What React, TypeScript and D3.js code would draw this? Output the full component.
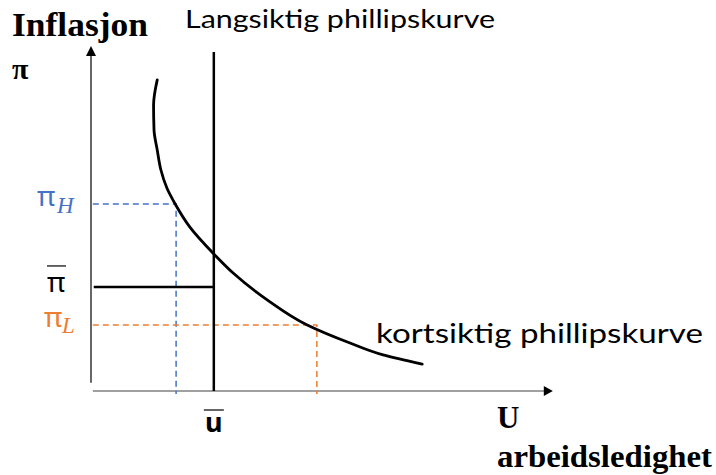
import React from 'react';
import * as d3 from 'd3';

// short-run phillips curve (unemployment u, inflation pi)
const curveU = [1.44, 1.36, 1.37, 1.44, 1.52, 1.65, 1.83, 2.15, 2.65, 3.09, 3.83, 4.7, 5.63, 6.35, 7.2];
const curvePi = [9.15, 8.41, 7.68, 7.09, 6.5, 5.97, 5.5, 4.82, 4.06, 3.47, 2.68, 1.94, 1.41, 1.06, 0.79];

// reference levels
const uBar = 2.67;
const piBar = 3.06;
const uH = 1.85;
const piH = 5.5;
const uL = 4.91;
const piL = 1.94;
const lrTop = 9.97;

const W = 716, H = 475;
const blue = '#4472C4';
const orange = '#ED7D31';

export default function App() {
  const x = d3.scaleLinear().domain([0, 10]).range([91, 551]);
  const y = d3.scaleLinear().domain([0, 10]).range([391, 51]);

  const pts: [number, number][] = curveU.map((u, i) => [u, curvePi[i]]);
  // y is monotone along the curve, so interpolate x as a function of y
  const line = d3
    .line<[number, number]>()
    .x((d) => x(d[0]))
    .y((d) => y(d[1]))
    .curve(d3.curveMonotoneY);

  const sans = 'Lato, "Noto Sans", sans-serif';
  const serif = '"Liberation Serif", "Times New Roman", serif';
  const greek = '"Noto Sans", "Open Sans", sans-serif';

  return (
    <svg width={W} height={H} style={{ position: 'absolute', left: 0, top: 0, background: '#fff' }}>
      {/* axes */}
      <line x1={x(0)} x2={x(0)} y1={y(0.24)} y2={y(10.0)} stroke="#000" strokeWidth={1.2} />
      <path d={`M${x(0)},${y(10.15)} l-5,10 l10,0 z`} fill="#000" />
      <line x1={x(0.04)} x2={x(9.86)} y1={y(0)} y2={y(0)} stroke="#808080" strokeWidth={1.6} />
      <path d={`M${x(10.04)},${y(0)} l-9,-5 l0,10 z`} fill="#000" />

      {/* dashed guides */}
      <g strokeWidth={1.5} strokeDasharray="6,4" fill="none">
        <path d={`M${x(0.04)},${y(piH)} H${x(uH)} V${y(-0.09)}`} stroke={blue} />
        <path d={`M${x(0.04)},${y(piL)} H${x(uL)} V${y(-0.09)}`} stroke={orange} />
      </g>

      {/* long-run curve and pi-bar */}
      <line x1={x(uBar)} x2={x(uBar)} y1={y(lrTop)} y2={y(0)} stroke="#000" strokeWidth={2.5} />
      <line x1={x(0.06)} x2={x(uBar)} y1={y(piBar)} y2={y(piBar)} stroke="#000" strokeWidth={2.5} />

      {/* short-run curve */}
      <path d={line(pts) || ''} fill="none" stroke="#000" strokeWidth={2.8} strokeLinecap="round" />

      {/* titles */}
      <text x={12} y={36} fontFamily={serif} fontWeight="bold" fontSize={33} textLength={136} lengthAdjust="spacingAndGlyphs">
        Inflasjon
      </text>
      <text x={12} y={79} fontFamily={serif} fontWeight="bold" fontSize={30}>
        π
      </text>
      <text x={497} y={428} fontFamily={serif} fontWeight="bold" fontSize={31}>
        U
      </text>
      <text x={497} y={467} fontFamily={serif} fontWeight="bold" fontSize={31} textLength={215} lengthAdjust="spacingAndGlyphs">
        arbeidsledighet
      </text>
      <text x={185} y={28} fontFamily={sans} fontSize={25} textLength={310} lengthAdjust="spacingAndGlyphs">
        Langsiktig phillipskurve
      </text>
      <text x={376} y={343} fontFamily={sans} fontSize={26} textLength={327} lengthAdjust="spacingAndGlyphs">
        kortsiktig phillipskurve
      </text>

      {/* pi labels */}
      <text x={37} y={y(piH) + 2} fontFamily={greek} fontSize={28} fill={blue}>
        π
      </text>
      <text x={57} y={y(piH) + 9} fontFamily={serif} fontStyle="italic" fontSize={23} fill={blue}>
        H
      </text>
      <text x={47} y={y(piBar) + 5} fontFamily={greek} fontSize={28} fill="#000">
        π
      </text>
      <line x1={47} x2={66} y1={y(piBar) - 21} y2={y(piBar) - 21} stroke="#000" strokeWidth={1.2} />
      <text x={44} y={y(piL) + 2} fontFamily={greek} fontSize={28} fill={orange}>
        π
      </text>
      <text x={62} y={y(piL) + 8} fontFamily={serif} fontStyle="italic" fontSize={23} fill={orange}>
        L
      </text>

      {/* u-bar label */}
      <text x={x(uBar)} y={432} textAnchor="middle" fontFamily={greek} fontWeight="bold" fontSize={27} fill="#000">
        u
      </text>
      <line x1={x(uBar) - 10} x2={x(uBar) + 10} y1={410} y2={410} stroke="#000" strokeWidth={1.2} />
    </svg>
  );
}
